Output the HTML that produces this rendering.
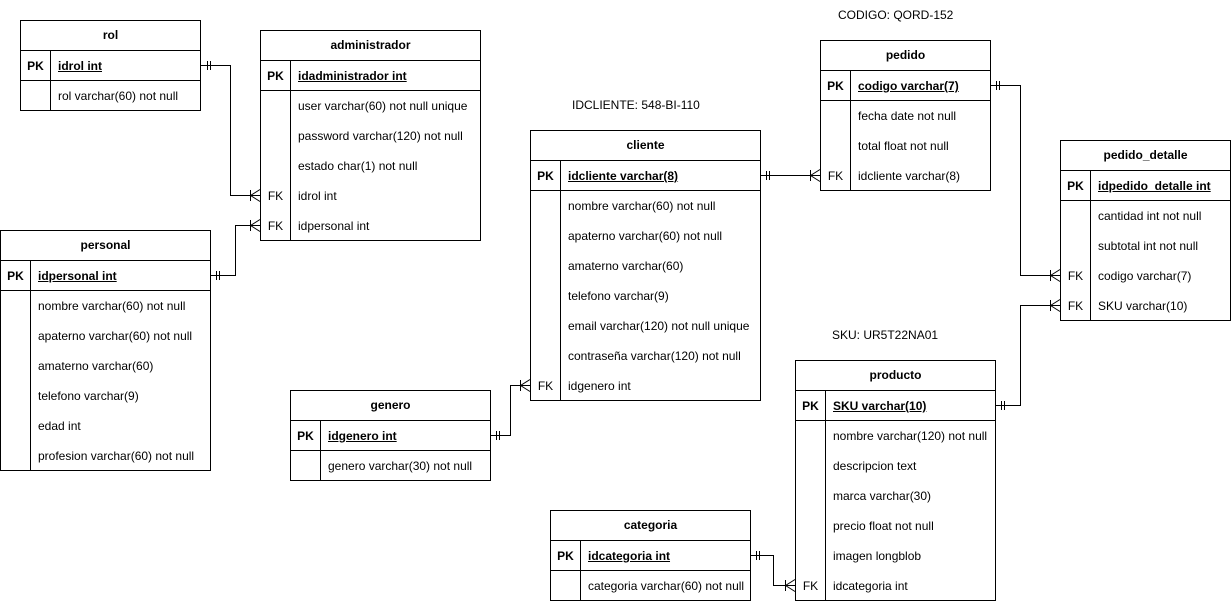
<!DOCTYPE html>
<html><head><meta charset="utf-8"><style>
body{margin:0;width:1231px;height:601px;background:#fff;position:relative;overflow:hidden;font-family:"Liberation Sans",Arial,sans-serif;font-size:12px;color:#000}
.t{position:absolute;border:1px solid #000;box-sizing:border-box;background:#fff}
.h{height:30px;line-height:29px;text-align:center;font-weight:bold;border-bottom:1px solid #000;box-sizing:border-box}
.r{height:30px;line-height:30px;display:flex;box-sizing:border-box}
.r.pk{border-bottom:1px solid #000;font-weight:bold}
.r.pk .v{text-decoration:underline}
.k{width:30px;border-right:1px solid #000;text-align:center;box-sizing:border-box;flex:none}
.v{padding-left:7px;white-space:nowrap}
.lbl{position:absolute;font-size:12px}
svg{position:absolute;left:0;top:0}
</style></head><body>
<div class="lbl" style="left:838px;top:8px">CODIGO: QORD-152</div>
<div class="lbl" style="left:572px;top:98px">IDCLIENTE: 548-BI-110</div>
<div class="lbl" style="left:832px;top:328px">SKU: UR5T22NA01</div>

<div class="t" style="left:20px;top:20px;width:181px;height:91px">
<div class="h">rol</div>
<div class="r pk"><div class="k">PK</div><div class="v">idrol int</div></div>
<div class="r"><div class="k"></div><div class="v">rol varchar(60) not null</div></div>
</div>

<div class="t" style="left:260px;top:30px;width:221px;height:211px">
<div class="h">administrador</div>
<div class="r pk"><div class="k">PK</div><div class="v">idadministrador int</div></div>
<div class="r"><div class="k"></div><div class="v">user varchar(60) not null unique</div></div>
<div class="r"><div class="k"></div><div class="v">password varchar(120) not null</div></div>
<div class="r"><div class="k"></div><div class="v">estado char(1) not null</div></div>
<div class="r"><div class="k">FK</div><div class="v">idrol int</div></div>
<div class="r"><div class="k">FK</div><div class="v">idpersonal int</div></div>
</div>

<div class="t" style="left:0px;top:230px;width:211px;height:241px">
<div class="h">personal</div>
<div class="r pk"><div class="k">PK</div><div class="v">idpersonal int</div></div>
<div class="r"><div class="k"></div><div class="v">nombre varchar(60) not null</div></div>
<div class="r"><div class="k"></div><div class="v">apaterno varchar(60) not null</div></div>
<div class="r"><div class="k"></div><div class="v">amaterno varchar(60)</div></div>
<div class="r"><div class="k"></div><div class="v">telefono varchar(9)</div></div>
<div class="r"><div class="k"></div><div class="v">edad int</div></div>
<div class="r"><div class="k"></div><div class="v">profesion varchar(60) not null</div></div>
</div>

<div class="t" style="left:290px;top:390px;width:201px;height:91px">
<div class="h">genero</div>
<div class="r pk"><div class="k">PK</div><div class="v">idgenero int</div></div>
<div class="r"><div class="k"></div><div class="v">genero varchar(30) not null</div></div>
</div>

<div class="t" style="left:530px;top:130px;width:231px;height:271px">
<div class="h">cliente</div>
<div class="r pk"><div class="k">PK</div><div class="v">idcliente varchar(8)</div></div>
<div class="r"><div class="k"></div><div class="v">nombre varchar(60) not null</div></div>
<div class="r"><div class="k"></div><div class="v">apaterno varchar(60) not null</div></div>
<div class="r"><div class="k"></div><div class="v">amaterno varchar(60)</div></div>
<div class="r"><div class="k"></div><div class="v">telefono varchar(9)</div></div>
<div class="r"><div class="k"></div><div class="v">email varchar(120) not null unique</div></div>
<div class="r"><div class="k"></div><div class="v">contraseña varchar(120) not null</div></div>
<div class="r"><div class="k">FK</div><div class="v">idgenero int</div></div>
</div>

<div class="t" style="left:820px;top:40px;width:171px;height:151px">
<div class="h">pedido</div>
<div class="r pk"><div class="k">PK</div><div class="v">codigo varchar(7)</div></div>
<div class="r"><div class="k"></div><div class="v">fecha date not null</div></div>
<div class="r"><div class="k"></div><div class="v">total float not null</div></div>
<div class="r"><div class="k">FK</div><div class="v">idcliente varchar(8)</div></div>
</div>

<div class="t" style="left:1060px;top:140px;width:171px;height:181px">
<div class="h">pedido_detalle</div>
<div class="r pk"><div class="k">PK</div><div class="v">idpedido_detalle int</div></div>
<div class="r"><div class="k"></div><div class="v">cantidad int not null</div></div>
<div class="r"><div class="k"></div><div class="v">subtotal int not null</div></div>
<div class="r"><div class="k">FK</div><div class="v">codigo varchar(7)</div></div>
<div class="r"><div class="k">FK</div><div class="v">SKU varchar(10)</div></div>
</div>

<div class="t" style="left:795px;top:360px;width:201px;height:241px">
<div class="h">producto</div>
<div class="r pk"><div class="k">PK</div><div class="v">SKU varchar(10)</div></div>
<div class="r"><div class="k"></div><div class="v">nombre varchar(120) not null</div></div>
<div class="r"><div class="k"></div><div class="v">descripcion text</div></div>
<div class="r"><div class="k"></div><div class="v">marca varchar(30)</div></div>
<div class="r"><div class="k"></div><div class="v">precio float not null</div></div>
<div class="r"><div class="k"></div><div class="v">imagen longblob</div></div>
<div class="r"><div class="k">FK</div><div class="v">idcategoria int</div></div>
</div>

<div class="t" style="left:550px;top:510px;width:201px;height:91px">
<div class="h">categoria</div>
<div class="r pk"><div class="k">PK</div><div class="v">idcategoria int</div></div>
<div class="r"><div class="k"></div><div class="v">categoria varchar(60) not null</div></div>
</div>

<svg width="1231" height="601" fill="none" stroke="#000" stroke-width="1">
<!-- rol -> administrador -->
<path d="M201 65.5H230.5V195.5H260"/>
<path d="M207.5 61V70M210.5 61V70"/>
<path d="M250.5 190V201M250.5 195.5L260 189.5M250.5 195.5L260 201.5"/>
<!-- personal -> administrador -->
<path d="M211 275.5H235.5V225.5H260"/>
<path d="M216.5 271V280M219.5 271V280"/>
<path d="M250.5 220V231M250.5 225.5L260 219.5M250.5 225.5L260 231.5"/>
<!-- genero -> cliente -->
<path d="M491 435.5H510.5V385.5H530"/>
<path d="M496.5 431V440M499.5 431V440"/>
<path d="M520.5 380V391M520.5 385.5L530 379.5M520.5 385.5L530 391.5"/>
<!-- cliente -> pedido -->
<path d="M761 175.5H820"/>
<path d="M766.5 171V180M769.5 171V180"/>
<path d="M810.5 170V181M810.5 175.5L820 169.5M810.5 175.5L820 181.5"/>
<!-- pedido -> pedido_detalle -->
<path d="M991 85.5H1020.5V275.5H1060"/>
<path d="M996.5 81V90M999.5 81V90"/>
<path d="M1050.5 270V281M1050.5 275.5L1060 269.5M1050.5 275.5L1060 281.5"/>
<!-- producto -> pedido_detalle -->
<path d="M996 405.5H1020.5V305.5H1060"/>
<path d="M1001.5 401V410M1004.5 401V410"/>
<path d="M1050.5 300V311M1050.5 305.5L1060 299.5M1050.5 305.5L1060 311.5"/>
<!-- categoria -> producto -->
<path d="M751 555.5H773.5V585.5H795"/>
<path d="M756.5 551V560M759.5 551V560"/>
<path d="M785.5 580V591M785.5 585.5L795 579.5M785.5 585.5L795 591.5"/>
</svg>
</body></html>
